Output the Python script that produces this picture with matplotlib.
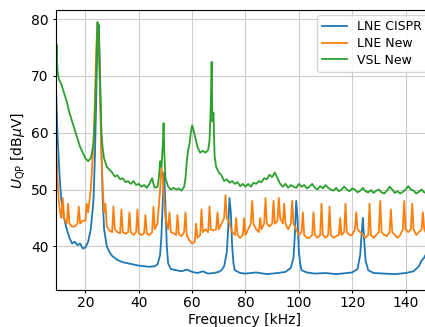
import matplotlib
matplotlib.use("Agg")
import matplotlib.pyplot as plt

plt.rcParams['font.size'] = 10

# LNE CISPR (blue)
f_cispr = [9, 9.5, 10, 10.5, 11, 12, 13, 14, 15, 16, 17, 18, 19, 20, 21, 22, 23, 23.5, 24, 24.5,
           25, 25.5, 26, 26.5, 27, 28, 29, 30, 32, 34, 36, 38, 40, 42, 44, 46, 47, 48, 48.5, 49,
           49.5, 50, 50.5, 51, 52, 54, 56, 58, 60, 62, 64, 66, 68, 70, 71, 72, 73, 73.5, 74, 74.5,
           75, 75.5, 76, 78, 80, 84, 88, 92, 95, 97, 98, 98.5, 99, 99.5, 100, 100.5, 101, 103, 106, 110,
           114, 118, 120, 122, 123, 123.5, 124, 124.5, 125, 126, 128, 132, 136, 140, 143, 145, 146, 147, 148, 150]
u_cispr = [67.5, 60, 55, 51, 48, 45, 43, 41.5, 40.5, 40.8, 40.2, 40.5, 39.6, 39.8, 40.8, 43, 48, 55, 65, 77,
           79, 70, 57, 48, 43, 40, 39, 38.3, 37.6, 37.2, 37, 36.8, 36.6, 36.5, 36.4, 36.5, 36.8, 38.5, 42, 48,
           53, 47, 40, 37, 36, 35.8, 35.6, 35.9, 35.5, 35.3, 35.6, 35.2, 35.3, 35.5, 35.8, 36.5, 39, 43, 48.5, 46,
           40, 37, 35.8, 35.3, 35.2, 35.4, 35.1, 35.3, 35.5, 36.2, 38, 42, 48, 45, 39, 37, 35.8, 35.4, 35.2, 35.3,
           35.1, 35.3, 35.4, 36, 38.5, 42, 45, 41, 37.5, 35.8, 35.3, 35.2, 35.1, 35.3, 35.6, 36.5, 37.5, 38, 39, 40.5]

# LNE New (orange)
f_new = [9, 9.5, 10, 10.5, 11, 11.5, 12, 13, 13.5, 14, 15, 16, 17, 17.5, 18, 19, 20, 20.5, 21, 22,
         23, 23.5, 24, 24.5, 25, 25.5, 26, 26.5, 27, 27.5, 28, 29, 30, 30.5, 31, 32, 33, 33.5, 34, 35,
         36, 36.5, 37, 38, 39, 39.5, 40, 41, 42, 42.5, 43, 44, 45, 45.5, 46, 47, 47.5, 48, 48.5, 49,
         49.5, 50, 51, 51.5, 52, 53, 54, 54.5, 55, 56, 57, 57.5, 58, 59, 60, 61, 61.5, 62, 63, 63.5,
         64, 65, 66, 66.5, 67, 68, 69, 69.5, 70, 71, 72, 72.5, 73, 74, 75, 76, 76.5, 77, 78, 79,
         79.5, 80, 81, 82, 82.5, 83, 84, 85, 85.5, 86, 87, 87.5, 88, 89, 90, 90.5, 91, 92, 92.5, 93,
         94, 94.5, 95, 96, 97, 97.5, 98, 99, 100, 101, 101.5, 102, 103, 104, 105, 105.5, 106, 107, 108, 108.5,
         109, 110, 111, 111.5, 112, 113, 114, 115, 115.5, 116, 117, 117.5, 118, 119, 120, 121, 121.5, 122, 123, 124,
         125, 126, 126.5, 127, 128, 129, 130, 130.5, 131, 132, 133, 134, 134.5, 135, 136, 137, 138, 139, 139.5, 140,
         141, 142, 142.5, 143, 144, 145, 146, 146.5, 147, 148, 149, 150]
u_new = [58, 52, 48, 46, 45, 48.5, 45, 44, 47.5, 44, 43.5, 43.5, 44, 47, 44, 44.5, 44.5, 47.5, 46, 50,
         58, 65, 74, 79.3, 76, 66, 56, 50, 46, 47.5, 43.5, 42.8, 42.5, 47, 43, 42.5, 42.3, 46.5, 42.5, 42.2,
         42.5, 46, 42.5, 42, 42.5, 46.5, 42.3, 42, 42.3, 45.5, 42.2, 42, 42.5, 47, 43, 44, 47, 50, 54, 52,
         48, 45, 43, 46, 42.5, 42.3, 42, 45.5, 42.2, 41.8, 42.5, 46, 42, 41, 40.5, 40.8, 44, 41.5, 42, 46.5,
         42.5, 43, 42.5, 47, 43, 42.8, 43, 46, 43, 44, 45, 49, 45, 44, 42.5, 42, 45, 42, 41.5, 42,
         45, 42, 43, 44, 48, 44, 43, 42.5, 45, 43, 44, 48.5, 44, 43.5, 44, 48, 44, 44.5, 48.5, 45,
         44, 47.5, 44, 43, 44, 48, 44, 43, 42, 42.5, 46, 42, 41.5, 41.5, 42, 46, 42, 41.5, 42, 47.5,
         42, 41.5, 42, 47, 42, 41.5, 41.8, 42, 45, 42, 42.5, 47.5, 42.5, 42, 42, 43, 46, 43, 42.5, 42,
         41.5, 42, 47.5, 42, 41.5, 42, 42.5, 48, 42.5, 42, 41.8, 42.5, 46.5, 42.5, 42, 41.5, 42, 43, 48, 43,
         42.5, 43, 47.5, 43, 42, 42.5, 43, 46, 43, 42, 42.5, 43]

# VSL New (green)
f_vsl = [9, 9.2, 9.5, 10, 11, 12, 13, 14, 15, 16, 17, 18, 19, 20, 21, 22, 23, 23.5, 24, 24.5,
         25, 25.5, 26, 26.5, 27, 28, 29, 30, 31, 32, 33, 34, 35, 36, 37, 38, 39, 40, 41, 42,
         43, 44, 45, 45.5, 46, 47, 47.5, 48, 48.5, 49, 49.3, 49.6, 50, 51, 52, 53, 54, 55, 56, 57,
         57.5, 58, 58.5, 59, 59.5, 60, 60.5, 61, 62, 63, 64, 65, 66, 66.5, 67, 67.3, 67.6, 68, 68.4, 69,
         70, 71, 72, 73, 74, 75, 76, 77, 78, 79, 80, 81, 82, 83, 84, 85, 86, 87, 88, 89,
         90, 91, 92, 93, 94, 95, 96, 97, 98, 99, 100, 101, 102, 103, 104, 105, 106, 107, 108, 109,
         110, 111, 112, 113, 114, 115, 116, 117, 118, 119, 120, 121, 122, 123, 124, 125, 126, 127, 128, 129,
         130, 131, 132, 133, 134, 135, 136, 137, 138, 139, 140, 141, 142, 143, 144, 145, 146, 147, 148, 149, 150]
u_vsl = [72, 75.5, 71, 69.5, 68.5, 67, 65.5, 63.5, 62, 60.5, 59, 57.5, 56.5, 55.5, 55, 55.5, 58, 62, 70, 79.5,
         78, 68, 60, 57, 55.5, 54, 53.5, 53, 52.3, 52.5, 51.8, 52, 51.3, 51.5, 51, 51.5, 50.8, 51, 50.5, 50.8,
         50.3, 51, 52, 51, 50.3, 50.5, 52, 55, 54, 58, 61.7, 56, 52, 50.5, 50, 50.3, 50, 50.2, 49.8, 50.5,
         52, 55, 57, 58, 60, 61.3, 60.5, 59.5, 57.5, 56.5, 56.8, 56.5, 57, 58.5, 65, 72.5, 62, 63.5, 56, 54,
         53, 52.5, 51.5, 51.8, 51.2, 51.5, 51, 51.3, 50.6, 51, 50.5, 51, 50.5, 51.2, 51, 51.5, 51.3, 52, 51.8, 52.6,
         52.2, 53, 52, 51, 50.5, 51, 50.3, 50.8, 50.5, 50.3, 51, 50.5, 50.8, 50.2, 50.5, 51, 50.3, 50, 50.6, 50.2,
         50.8, 50.3, 50, 49.8, 50.3, 49.7, 50, 50.5, 50, 49.7, 50.2, 50, 49.5, 49.8, 50.3, 49.7, 49.5, 49.9, 49.4, 49.8,
         50, 49.5, 49.3, 49.8, 50.5, 50, 49.4, 49.7, 49.3, 49.6, 50, 50.6, 50, 49.8, 49.3, 49.6, 50, 49.5, 49.3, 49.6, 49.5]

fig = plt.figure(figsize=(4.25, 3.27), dpi=100)
ax = fig.add_axes([0.132, 0.113, 0.885, 0.856])

ax.plot(f_cispr, u_cispr, color='tab:blue', linewidth=1.3, label='LNE CISPR')
ax.plot(f_new, u_new, color='tab:orange', linewidth=1.3, label='LNE New')
ax.plot(f_vsl, u_vsl, color='tab:green', linewidth=1.3, label='VSL New')

ax.set_xlim(9, 150)
ax.set_ylim(32.3, 81.6)
ax.set_xticks([20, 40, 60, 80, 100, 120, 140])
ax.set_yticks([40, 50, 60, 70, 80])
ax.tick_params(axis='x', length=2.5, pad=2)
ax.tick_params(axis='y', length=2.5, pad=3)
ax.set_xlabel('Frequency [kHz]', labelpad=2)
ax.set_ylabel(r'$U_\mathrm{QP}$ [dB$\mu$V]', labelpad=3)
ax.grid(True, color='#cccccc', linewidth=0.8)
ax.legend(loc='upper right', fontsize=9, labelspacing=0.3, borderaxespad=0.4)

fig.savefig('out.png', dpi=100)
